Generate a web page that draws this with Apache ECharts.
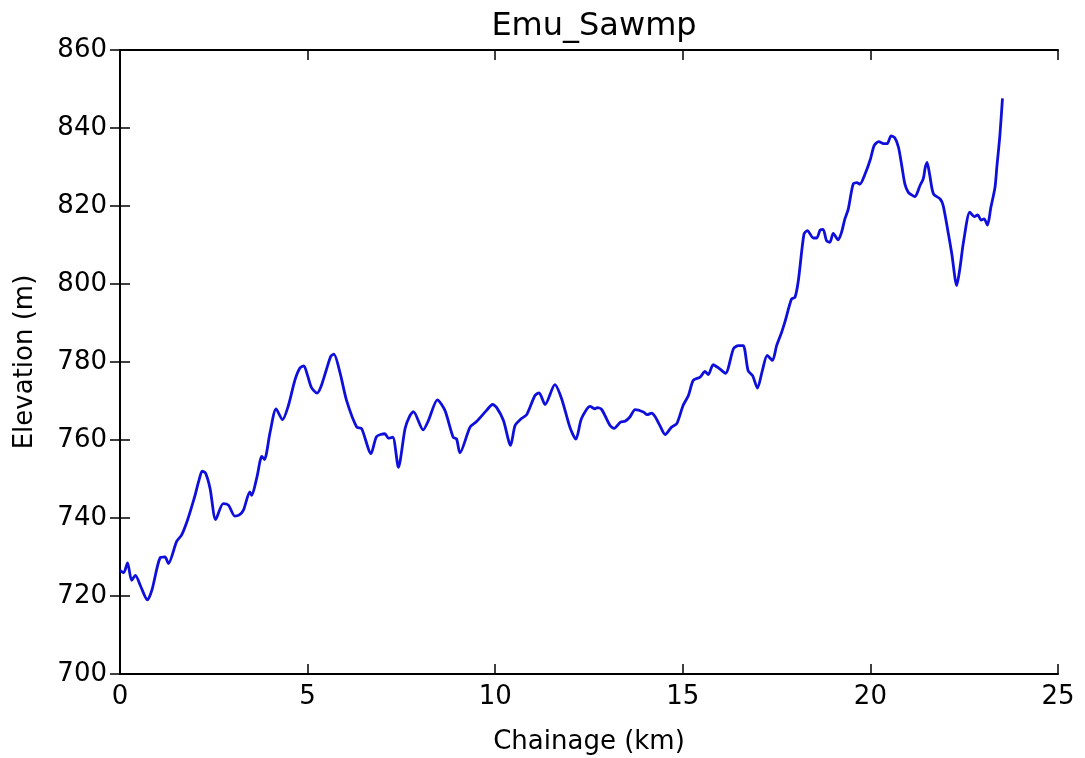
<!DOCTYPE html>
<html>
<head>
<meta charset="utf-8">
<script src="https://cdn.jsdelivr.net/npm/echarts@6/dist/echarts.min.js"></script>
<style>
html,body{margin:0;padding:0;background:#fff;}
#chart{width:1085px;height:758px;}
</style>
</head>
<body>
<div id="chart"></div>
<script>
const chartTitle = 'Emu_Sawmp';
const xAxisName = 'Chainage (km)';
const yAxisName = 'Elevation (m)';
const chainage = [0.00,0.10,0.20,0.31,0.41,0.55,0.73,0.85,1.07,1.20,1.29,1.51,1.64,1.80,2.00,2.10,2.19,2.28,2.40,2.55,2.75,2.89,3.06,3.18,3.29,3.46,3.51,3.65,3.78,3.85,4.00,4.16,4.33,4.49,4.66,4.80,4.90,5.00,5.10,5.25,5.35,5.50,5.62,5.70,5.86,6.04,6.31,6.44,6.69,6.84,7.06,7.15,7.27,7.42,7.60,7.73,7.82,8.08,8.22,8.46,8.66,8.88,8.97,9.06,9.33,9.51,9.77,9.93,10.04,10.22,10.41,10.53,10.70,10.84,11.06,11.17,11.33,11.59,11.77,11.99,12.15,12.30,12.53,12.66,12.72,12.84,13.06,13.17,13.34,13.46,13.59,13.73,13.95,14.05,14.17,14.26,14.39,14.53,14.70,14.84,15.01,15.15,15.28,15.46,15.59,15.68,15.81,15.99,16.14,16.35,16.48,16.61,16.74,16.86,16.99,17.12,17.25,17.39,17.50,17.63,17.72,17.90,17.99,18.08,18.23,18.32,18.48,18.57,18.66,18.74,18.83,18.92,19.01,19.14,19.23,19.32,19.41,19.54,19.64,19.72,19.85,20.00,20.10,20.22,20.35,20.45,20.55,20.65,20.75,20.85,20.92,21.01,21.14,21.19,21.32,21.41,21.46,21.51,21.58,21.68,21.86,21.94,22.08,22.17,22.30,22.39,22.48,22.65,22.77,22.86,22.95,23.03,23.12,23.21,23.32,23.37,23.45,23.52];
const elevation = [726.6,726.0,728.5,724.0,725.3,722.5,719.0,721.5,729.8,730.0,728.3,734.0,735.6,739.5,745.8,749.5,752.0,751.5,747.6,739.6,743.7,743.3,740.5,740.8,742.0,746.7,745.8,750.5,755.8,755.0,762.0,768.0,765.2,768.9,775.3,778.5,779.0,776.5,773.5,772.0,773.5,778.0,781.5,782.0,777.4,770.1,763.3,762.9,756.5,760.9,761.6,760.5,760.7,753.0,763.0,766.3,767.3,762.6,765.0,770.3,767.6,760.7,760.3,756.7,763.3,764.8,767.6,769.1,768.3,765.0,758.6,763.7,765.5,766.5,771.4,772.1,769.1,774.2,770.6,763.3,760.2,765.5,768.6,768.0,768.3,767.8,763.7,763.0,764.6,764.8,765.9,767.8,767.2,766.5,766.9,766.0,763.7,761.4,763.3,764.2,768.9,771.4,775.3,776.1,777.6,776.8,779.3,778.2,777.1,783.4,784.2,784.2,777.8,776.5,773.3,777.8,781.7,780.4,784.2,787.5,790.2,796.2,796.6,800.9,812.8,813.7,811.8,811.8,813.8,814.0,811.1,810.7,813.0,811.3,813.2,816.7,819.2,825.6,826.0,825.6,828.0,832.0,835.5,836.5,836.0,836.0,838.0,837.5,835.0,829.5,825.6,823.5,822.6,822.4,825.2,827.0,829.8,831.2,828.0,823.1,821.8,820.1,812.8,807.7,799.6,804.3,810.7,818.4,817.3,817.7,816.4,816.7,815.1,819.6,824.7,830.0,838.0,847.6];
const xRange = [0, 25, 5];
const yRange = [700, 860, 20];

const font = 'DejaVu Sans';
const seriesData = chainage.map((x, i) => [x, elevation[i]]);
const axisBase = {
  axisLine: {show: true, lineStyle: {color: '#000', width: 2}},
  axisTick: {show: true, inside: true, length: 10, lineStyle: {color: '#000', width: 1.5}},
  splitLine: {show: false}
};
const chart = echarts.init(document.getElementById('chart'), null, {renderer: 'canvas'});
chart.setOption({
  animation: false,
  backgroundColor: '#fff',
  title: {
    text: chartTitle, left: 589, top: 6, textAlign: 'center',
    textStyle: {fontFamily: font, fontSize: 32, fontWeight: 'normal', color: '#000'}
  },
  grid: {left: 120, right: 27, top: 50, bottom: 84, containLabel: false, outerBoundsMode: 'none'},
  xAxis: [
    Object.assign({}, axisBase, {
      type: 'value', min: xRange[0], max: xRange[1], interval: xRange[2],
      name: xAxisName, nameLocation: 'middle', nameGap: 55,
      nameTextStyle: {fontFamily: font, fontSize: 26, color: '#000'},
      axisLabel: {fontFamily: font, fontSize: 26, color: '#000', margin: 10}
    }),
    Object.assign({}, axisBase, {
      type: 'value', position: 'top', min: xRange[0], max: xRange[1], interval: xRange[2],
      axisLabel: {show: false}
    })
  ],
  yAxis: [
    Object.assign({}, axisBase, {
      type: 'value', min: yRange[0], max: yRange[1], interval: yRange[2],
      name: yAxisName, nameLocation: 'middle', nameGap: 82,
      nameTextStyle: {fontFamily: font, fontSize: 26, color: '#000'},
      axisLabel: {fontFamily: font, fontSize: 26, color: '#000', margin: 13}
    }),
    Object.assign({}, axisBase, {
      type: 'value', position: 'right', min: yRange[0], max: yRange[1], interval: yRange[2],
      axisLabel: {show: false}
    })
  ],
  series: [{
    type: 'line', data: seriesData, showSymbol: false, smooth: 0.25,
    xAxisIndex: 0, yAxisIndex: 0,
    lineStyle: {color: '#0f0fdc', width: 2.8}
  }]
});
</script>
</body>
</html>
